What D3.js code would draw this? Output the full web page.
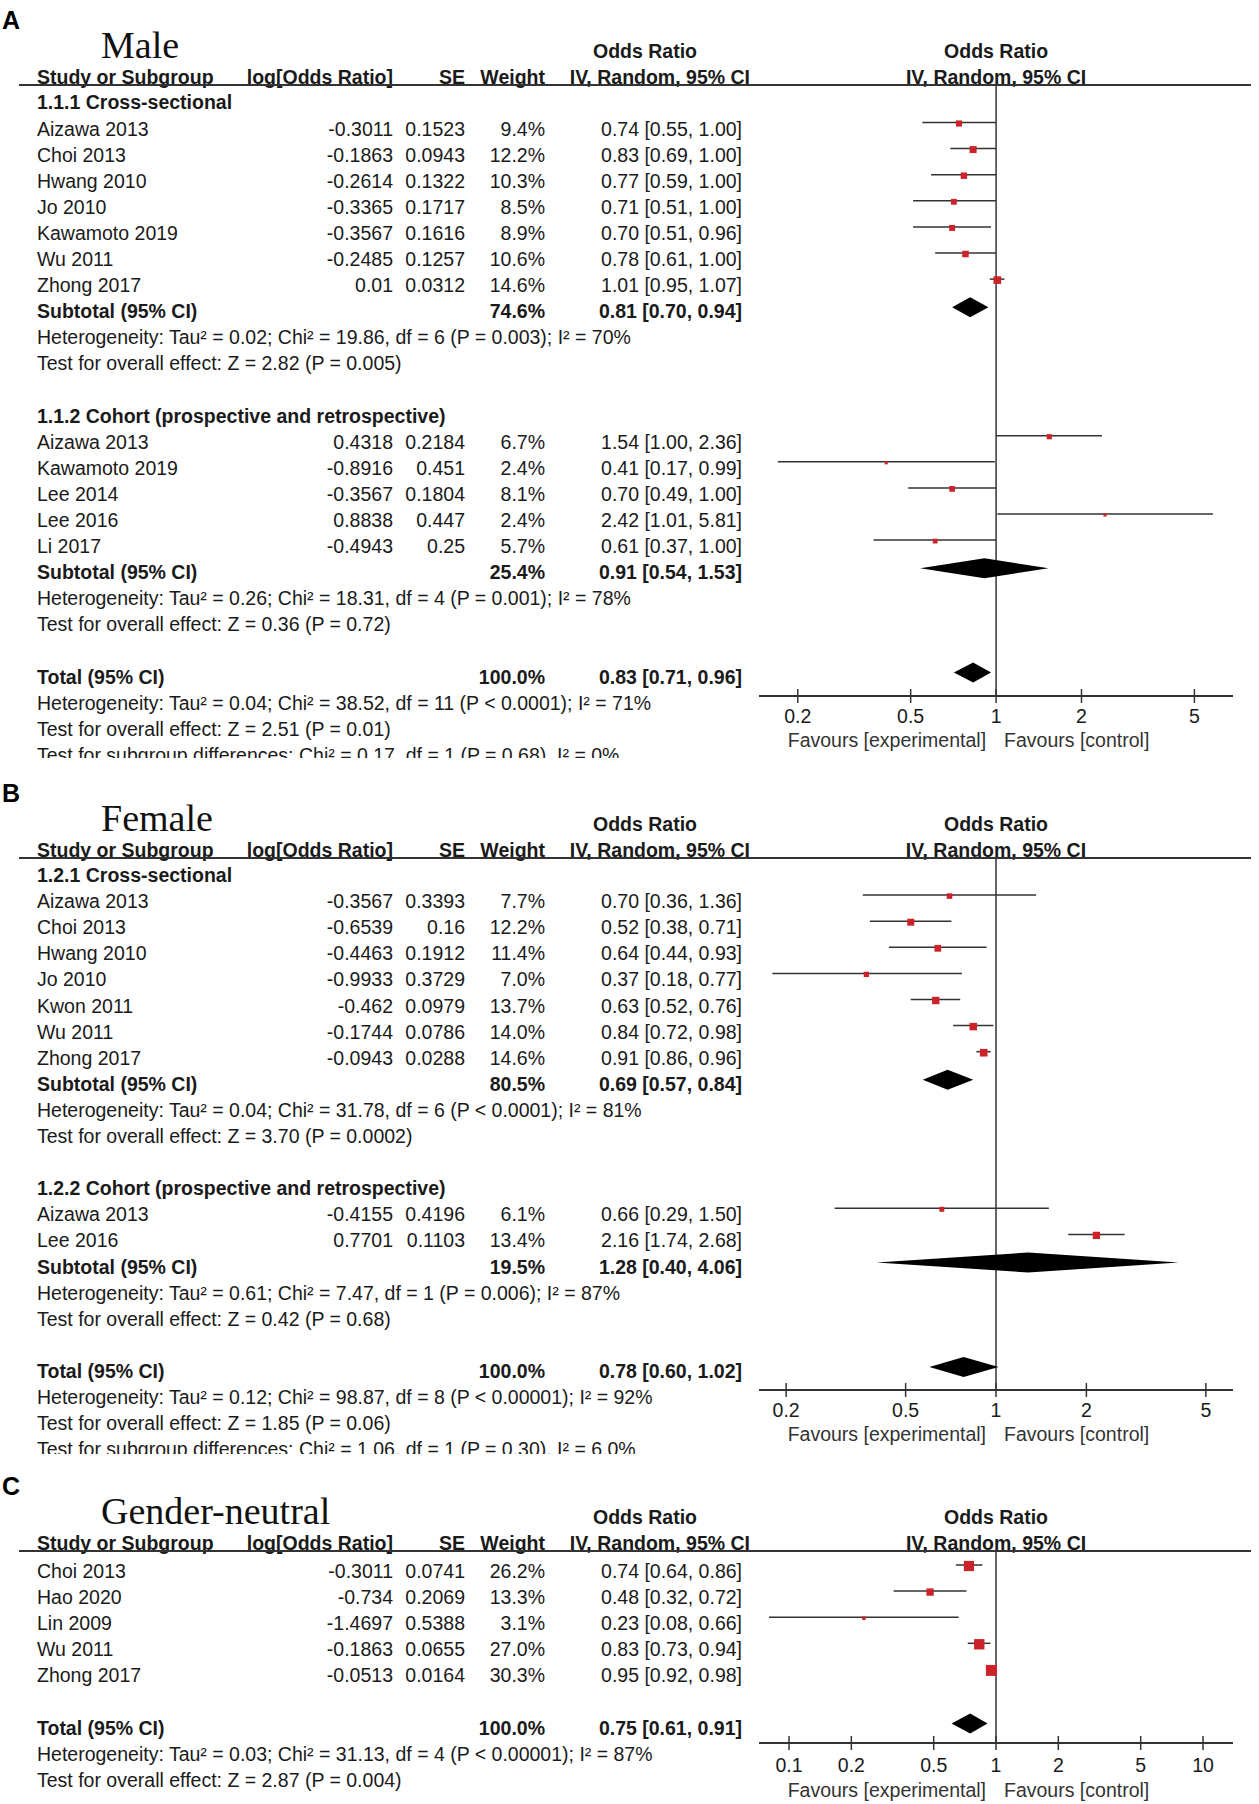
<!DOCTYPE html>
<html>
<head>
<meta charset="utf-8">
<script src="https://cdn.jsdelivr.net/npm/d3@7"></script>
<style>
  body { margin: 0; background: #fff; }
  text { font-family: "Liberation Sans", Arial, sans-serif; fill: #1a1a1a; }
</style>
</head>
<body>
<div id="chart"></div>
<script>

// ---- data: [study, log OR, SE, weight %, OR, lower, upper]
var maleCross = [
	["Aizawa 2013", -0.3011, 0.1523, 9.4, 0.74, 0.55, 1.00],
	["Choi 2013", -0.1863, 0.0943, 12.2, 0.83, 0.69, 1.00],
	["Hwang 2010", -0.2614, 0.1322, 10.3, 0.77, 0.59, 1.00],
	["Jo 2010", -0.3365, 0.1717, 8.5, 0.71, 0.51, 1.00],
	["Kawamoto 2019", -0.3567, 0.1616, 8.9, 0.70, 0.51, 0.96],
	["Wu 2011", -0.2485, 0.1257, 10.6, 0.78, 0.61, 1.00],
	["Zhong 2017", 0.01, 0.0312, 14.6, 1.01, 0.95, 1.07]
];
var maleCohort = [
	["Aizawa 2013", 0.4318, 0.2184, 6.7, 1.54, 1.00, 2.36],
	["Kawamoto 2019", -0.8916, 0.451, 2.4, 0.41, 0.17, 0.99],
	["Lee 2014", -0.3567, 0.1804, 8.1, 0.70, 0.49, 1.00],
	["Lee 2016", 0.8838, 0.447, 2.4, 2.42, 1.01, 5.81],
	["Li 2017", -0.4943, 0.25, 5.7, 0.61, 0.37, 1.00]
];
var femaleCross = [
	["Aizawa 2013", -0.3567, 0.3393, 7.7, 0.70, 0.36, 1.36],
	["Choi 2013", -0.6539, 0.16, 12.2, 0.52, 0.38, 0.71],
	["Hwang 2010", -0.4463, 0.1912, 11.4, 0.64, 0.44, 0.93],
	["Jo 2010", -0.9933, 0.3729, 7.0, 0.37, 0.18, 0.77],
	["Kwon 2011", -0.462, 0.0979, 13.7, 0.63, 0.52, 0.76],
	["Wu 2011", -0.1744, 0.0786, 14.0, 0.84, 0.72, 0.98],
	["Zhong 2017", -0.0943, 0.0288, 14.6, 0.91, 0.86, 0.96]
];
var femaleCohort = [
	["Aizawa 2013", -0.4155, 0.4196, 6.1, 0.66, 0.29, 1.50],
	["Lee 2016", 0.7701, 0.1103, 13.4, 2.16, 1.74, 2.68]
];
var neutralStudies = [
	["Choi 2013", -0.3011, 0.0741, 26.2, 0.74, 0.64, 0.86],
	["Hao 2020", -0.734, 0.2069, 13.3, 0.48, 0.32, 0.72],
	["Lin 2009", -1.4697, 0.5388, 3.1, 0.23, 0.08, 0.66],
	["Wu 2011", -0.1863, 0.0655, 27.0, 0.83, 0.73, 0.94],
	["Zhong 2017", -0.0513, 0.0164, 30.3, 0.95, 0.92, 0.98]
];

// pooled estimates: [weight %, OR, lower, upper]
var maleCrossSub = [74.6, 0.81, 0.70, 0.94];
var maleCohortSub = [25.4, 0.91, 0.54, 1.53];
var maleTotal = [100.0, 0.83, 0.71, 0.96];
var femaleCrossSub = [80.5, 0.69, 0.57, 0.84];
var femaleCohortSub = [19.5, 1.28, 0.40, 4.06];
var femaleTotal = [100.0, 0.78, 0.60, 1.02];
var neutralTotal = [100.0, 0.75, 0.61, 0.91];

var maleCrossNotes = ["Heterogeneity: Tau² = 0.02; Chi² = 19.86, df = 6 (P = 0.003); I² = 70%",
	"Test for overall effect: Z = 2.82 (P = 0.005)"];
var maleCohortNotes = ["Heterogeneity: Tau² = 0.26; Chi² = 18.31, df = 4 (P = 0.001); I² = 78%",
	"Test for overall effect: Z = 0.36 (P = 0.72)"];
var maleTotalNotes = ["Heterogeneity: Tau² = 0.04; Chi² = 38.52, df = 11 (P < 0.0001); I² = 71%",
	"Test for overall effect: Z = 2.51 (P = 0.01)",
	"Test for subgroup differences: Chi² = 0.17, df = 1 (P = 0.68), I² = 0%"];
var femaleCrossNotes = ["Heterogeneity: Tau² = 0.04; Chi² = 31.78, df = 6 (P < 0.0001); I² = 81%",
	"Test for overall effect: Z = 3.70 (P = 0.0002)"];
var femaleCohortNotes = ["Heterogeneity: Tau² = 0.61; Chi² = 7.47, df = 1 (P = 0.006); I² = 87%",
	"Test for overall effect: Z = 0.42 (P = 0.68)"];
var femaleTotalNotes = ["Heterogeneity: Tau² = 0.12; Chi² = 98.87, df = 8 (P < 0.00001); I² = 92%",
	"Test for overall effect: Z = 1.85 (P = 0.06)",
	"Test for subgroup differences: Chi² = 1.06, df = 1 (P = 0.30), I² = 6.0%"];
var neutralTotalNotes = ["Heterogeneity: Tau² = 0.03; Chi² = 31.13, df = 4 (P < 0.00001); I² = 87%",
	"Test for overall effect: Z = 2.87 (P = 0.004)"];

var ticksAB = [0.2, 0.5, 1, 2, 5];
var ticksC = [0.1, 0.2, 0.5, 1, 2, 5, 10];

// ---- layout
var width = 1259, height = 1804;
var ROW = 26.1;
var col = {study: 37, logor: 393, se: 465, weight: 545, ci: 742, ciHead: 750, orHead: 645};
var plotLeft = 759, plotRight = 1233, lineLeft = 19, lineRight = 1251;
var red = "#cc2229", ink = "#1a1a1a", lineCol = "#333";
var fs = 19.5;

var svg = d3.select("#chart").append("svg")
	.attr("width", width)
	.attr("height", height);

function fmt(v) { return v.toFixed(2) }
function ciText(d) { return fmt(d[0]) + " [" + fmt(d[1]) + ", " + fmt(d[2]) + "]" }

// build the row list for a panel
function buildRows(groups, total, totalNotes) {
	var rows = []
	groups.forEach(function(g) {
		if (g.title) rows.push({type: "group", text: g.title})
		g.studies.forEach(function(s) { rows.push({type: "study", d: s}) })
		if (g.sub) {
			rows.push({type: "sub", label: "Subtotal (95% CI)", d: g.sub})
			g.notes.forEach(function(n) { rows.push({type: "note", text: n}) })
			rows.push({type: "blank"})
		}
	})
	if (rows.length && rows[rows.length - 1].type != "blank") rows.push({type: "blank"})
	rows.push({type: "sub", label: "Total (95% CI)", d: total, total: true})
	totalNotes.forEach(function(n) { rows.push({type: "note", text: n}) })
	return rows
}

function drawPanel(cfg) {
	var g = svg.append("g")
	var top = cfg.lineY

	if (cfg.clipY) {
		var id = "clip" + cfg.letter
		svg.append("clipPath").attr("id", id)
			.append("rect").attr("x", 0).attr("y", 0).attr("width", width).attr("height", cfg.clipY)
		g.attr("clip-path", "url(#" + id + ")")
	}

	var x = d3.scaleLog().domain(cfg.domain).range([plotLeft, plotRight])

	// panel letter and title
	g.append("text").attr("x", 2).attr("y", top - 56)
		.style("font-weight", "bold").style("font-size", "25px").style("fill", "#000")
		.text(cfg.letter)
	g.append("text").attr("x", 101).attr("y", top - 27)
		.style("font-family", "'Liberation Serif', 'Times New Roman', serif")
		.style("font-size", "38px").style("fill", "#111")
		.text(cfg.title)

	// column headings
	var head = g.append("g").style("font-weight", "bold").style("font-size", fs + "px")
	head.append("text").attr("x", col.orHead).attr("y", top - 27).attr("text-anchor", "middle").text("Odds Ratio")
	head.append("text").attr("x", x(1)).attr("y", top - 27).attr("text-anchor", "middle").text("Odds Ratio")
	head.append("text").attr("x", col.study).attr("y", top - 1).text("Study or Subgroup")
	head.append("text").attr("x", col.logor).attr("y", top - 1).attr("text-anchor", "end").text("log[Odds Ratio]")
	head.append("text").attr("x", col.se).attr("y", top - 1).attr("text-anchor", "end").text("SE")
	head.append("text").attr("x", col.weight).attr("y", top - 1).attr("text-anchor", "end").text("Weight")
	head.append("text").attr("x", col.ciHead).attr("y", top - 1).attr("text-anchor", "end").text("IV, Random, 95% CI")
	head.append("text").attr("x", x(1)).attr("y", top - 1).attr("text-anchor", "middle").text("IV, Random, 95% CI")

	g.append("line")
		.attr("x1", lineLeft).attr("x2", lineRight)
		.attr("y1", top).attr("y2", top)
		.attr("stroke", lineCol).attr("stroke-width", 2)

	// line of no effect
	g.append("line")
		.attr("x1", x(1)).attr("x2", x(1))
		.attr("y1", top).attr("y2", cfg.axisY)
		.attr("stroke", lineCol).attr("stroke-width", 1.5)

	var rows = cfg.rows
	rows.forEach(function(r, i) {
		var cy = cfg.firstY + i * ROW
		var base = cy + 7
		var my = cy - 6
		var t = g.append("g").style("font-size", fs + "px")

		if (r.type == "group") {
			t.append("text").attr("x", col.study).attr("y", base).style("font-weight", "bold").text(r.text)
		} else if (r.type == "note") {
			t.append("text").attr("x", col.study).attr("y", base).text(r.text)
		} else if (r.type == "study") {
			var d = r.d
			t.append("text").attr("x", col.study).attr("y", base).text(d[0])
			t.append("text").attr("x", col.logor).attr("y", base).attr("text-anchor", "end").text(String(d[1]))
			t.append("text").attr("x", col.se).attr("y", base).attr("text-anchor", "end").text(String(d[2]))
			t.append("text").attr("x", col.weight).attr("y", base).attr("text-anchor", "end").text(d[3].toFixed(1) + "%")
			t.append("text").attr("x", col.ci).attr("y", base).attr("text-anchor", "end").text(ciText(d.slice(4)))

			g.append("line")
				.attr("x1", x(d[5])).attr("x2", x(d[6]))
				.attr("y1", my).attr("y2", my)
				.attr("stroke", lineCol).attr("stroke-width", 1.5)
			var s = 2.0 * Math.sqrt(d[3])
			g.append("rect")
				.attr("x", x(d[4]) - s / 2).attr("y", my - s / 2 + 1)
				.attr("width", s).attr("height", s)
				.attr("fill", red)
		} else if (r.type == "sub") {
			var d = r.d
			var b = t.append("g").style("font-weight", "bold")
			b.append("text").attr("x", col.study).attr("y", base).text(r.label)
			b.append("text").attr("x", col.weight).attr("y", base).attr("text-anchor", "end").text(d[0].toFixed(1) + "%")
			b.append("text").attr("x", col.ci).attr("y", base).attr("text-anchor", "end").text(ciText(d.slice(1)))

			var dy = my + 2, hh = 10
			g.append("path")
				.attr("d", "M" + x(d[2]) + "," + dy + "L" + x(d[1]) + "," + (dy - hh) +
					"L" + x(d[3]) + "," + dy + "L" + x(d[1]) + "," + (dy + hh) + "Z")
				.attr("fill", "#000")
		}
	})

	// axis
	var axis = g.append("g").attr("transform", "translate(0," + cfg.axisY + ")")
	axis.append("line")
		.attr("x1", plotLeft).attr("x2", plotRight)
		.attr("stroke", lineCol).attr("stroke-width", 2)
	axis.selectAll(".tick").data(cfg.ticks).enter().append("line")
		.attr("x1", function(d) { return x(d) }).attr("x2", function(d) { return x(d) })
		.attr("y1", -7).attr("y2", 7)
		.attr("stroke", lineCol).attr("stroke-width", 1.5)
	axis.selectAll(".ticklabel").data(cfg.ticks).enter().append("text")
		.attr("x", function(d) { return x(d) })
		.attr("y", cfg.tickDy)
		.attr("text-anchor", "middle")
		.style("font-size", fs + "px")
		.text(function(d) { return d })
	axis.append("text").attr("x", x(1) - 10).attr("y", cfg.favDy)
		.attr("text-anchor", "end").style("font-size", "19.5px").style("fill", "#333")
		.text("Favours [experimental]")
	axis.append("text").attr("x", x(1) + 8).attr("y", cfg.favDy)
		.style("font-size", "19.5px").style("fill", "#333")
		.text("Favours [control]")
}

drawPanel({
	letter: "A", title: "Male",
	lineY: 85, firstY: 102.4, axisY: 696, clipY: 758,
	domain: [0.146, 6.84], ticks: ticksAB, tickDy: 27, favDy: 51,
	rows: buildRows([
		{title: "1.1.1 Cross-sectional", studies: maleCross, sub: maleCrossSub, notes: maleCrossNotes},
		{title: "1.1.2 Cohort (prospective and retrospective)", studies: maleCohort, sub: maleCohortSub, notes: maleCohortNotes}
	], maleTotal, maleTotalNotes)
});

drawPanel({
	letter: "B", title: "Female",
	lineY: 858, firstY: 875, axisY: 1390, clipY: 1454,
	domain: [0.1624, 6.157], ticks: ticksAB, tickDy: 27, favDy: 51,
	rows: buildRows([
		{title: "1.2.1 Cross-sectional", studies: femaleCross, sub: femaleCrossSub, notes: femaleCrossNotes},
		{title: "1.2.2 Cohort (prospective and retrospective)", studies: femaleCohort, sub: femaleCohortSub, notes: femaleCohortNotes}
	], femaleTotal, femaleTotalNotes)
});

drawPanel({
	letter: "C", title: "Gender-neutral",
	lineY: 1551, firstY: 1571, axisY: 1743,
	domain: [0.0716, 13.96], ticks: ticksC, tickDy: 29, favDy: 54,
	rows: buildRows([
		{title: null, studies: neutralStudies, sub: null, notes: []}
	], neutralTotal, neutralTotalNotes)
});

</script>
</body>
</html>
